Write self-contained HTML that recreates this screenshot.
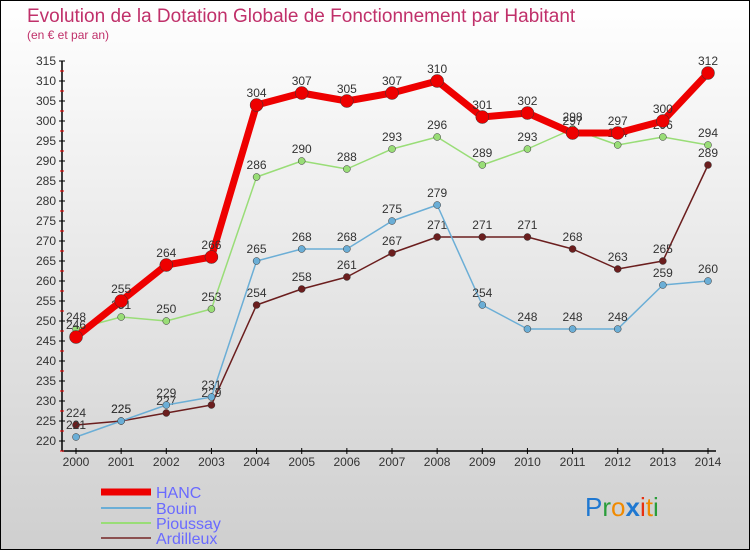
<!DOCTYPE html>
<html><head><meta charset="utf-8"><style>
body{margin:0;}
#wrap{width:748px;height:548px;border:1px solid #000;background:linear-gradient(#ffffff,#cfcfcf);position:relative;font-family:"Liberation Sans",sans-serif;overflow:hidden}
</style></head><body>
<div id="wrap">
<svg id="svg" width="748" height="548" xmlns="http://www.w3.org/2000/svg">
<text x="26" y="21" font-size="19" fill="#c0306a">Evolution de la Dotation Globale de Fonctionnement par Habitant</text>
<text x="26" y="38" font-size="12" fill="#c0306a">(en € et par an)</text>
<g id="axes"></g><g id="series"></g>
<g>
<line x1="100" y1="491" x2="150" y2="491" stroke="#e00" stroke-width="7"/>
<text x="155" y="497" font-size="16" fill="#6a6aff">HANC</text>
<line x1="100" y1="507" x2="150" y2="507" stroke="#6baed6" stroke-width="2"/>
<text x="155" y="513" font-size="16" fill="#6a6aff">Bouin</text>
<line x1="100" y1="522" x2="150" y2="522" stroke="#99dd77" stroke-width="2"/>
<text x="155" y="528" font-size="16" fill="#6a6aff">Pioussay</text>
<line x1="100" y1="537" x2="150" y2="537" stroke="#8b5050" stroke-width="2"/>
<text x="155" y="543" font-size="16" fill="#6a6aff">Ardilleux</text>
</g>
<text x="584" y="515" font-size="26"><tspan fill="#1f78d1">P</tspan><tspan fill="#2a9d3a">r</tspan><tspan fill="#f08a00">o</tspan><tspan fill="#1f78d1" font-weight="bold">x</tspan><tspan fill="#e83010">i</tspan><tspan fill="#f08a00">t</tspan><tspan fill="#2a9d3a">i</tspan></text>
</svg></div>
<script>
const years=[2000,2001,2002,2003,2004,2005,2006,2007,2008,2009,2010,2011,2012,2013,2014];
const hanc=[246,255,264,266,304,307,305,307,310,301,302,297,297,300,312];
const bouin=[221,225,229,231,265,268,268,275,279,254,248,248,248,259,260];
const pioussay=[248,251,250,253,286,290,288,293,296,289,293,298,294,296,294];
const ardilleux=[224,225,227,229,254,258,261,267,271,271,271,268,263,265,289];
const yTicks=[220,225,230,235,240,245,250,255,260,265,270,275,280,285,290,295,300,305,310,315];
const NS="http://www.w3.org/2000/svg";
const xS=i=>75+i*(707-75)/(years.length-1);
const yS=v=>440-(v-220)*4;
function mk(t,a,p){const e=document.createElementNS(NS,t);for(const k in a)e.setAttribute(k,a[k]);p.appendChild(e);return e;}
const ax=document.getElementById('axes');
const yAxis=mk('line',{x1:61,y1:yS(315),x2:61,y2:450,stroke:'#000','stroke-width':1.5},ax);


const xAxis=mk('line',{x1:61,y1:450,x2:715,y2:450,stroke:'#000','stroke-width':1.5},ax);


yTicks.forEach(v=>{
  mk('line',{x1:58,y1:yS(v),x2:64,y2:yS(v),stroke:'#000'},ax);
  mk('line',{x1:59,y1:yS(v)+10,x2:63,y2:yS(v)+10,stroke:'#e00'},ax);
  const t=mk('text',{x:55,y:yS(v)+4,'font-size':12,fill:'#333','text-anchor':'end'},ax);
  t.textContent=v;
  
  
});
years.forEach((y,i)=>{
  mk('line',{x1:xS(i),y1:447,x2:xS(i),y2:453,stroke:'#000'},ax);
  const t=mk('text',{x:xS(i),y:465,'font-size':12,fill:'#333','text-anchor':'middle'},ax);
  t.textContent=y;
  
  
});
const sg=document.getElementById('series');
function draw(vals,color,w,r,name){
  const g=mk('g',{},sg);
  
  
  const pl=mk('polyline',{points:vals.map((v,i)=>xS(i)+','+yS(v)).join(' '),fill:'none',stroke:color,'stroke-width':w,'stroke-linejoin':'round'},g);
  
  
  vals.forEach((v,i)=>{
    const c=mk('circle',{cx:xS(i),cy:yS(v),r:r,fill:color,stroke:'#333','stroke-width':0.5},g);
    
    
    const t=mk('text',{x:xS(i),y:yS(v)-8,'font-size':12,fill:'#333','text-anchor':'middle'},g);
    t.textContent=v;
    
    
  });
}
draw(ardilleux,'#6b1e1e',1.5,3.5,'ardilleux');
draw(bouin,'#6baed6',1.5,3.5,'bouin');
draw(pioussay,'#99dd77',1.5,3.5,'pioussay');
draw(hanc,'#ee0000',7,6.5,'hanc');
</script>
</body></html>
